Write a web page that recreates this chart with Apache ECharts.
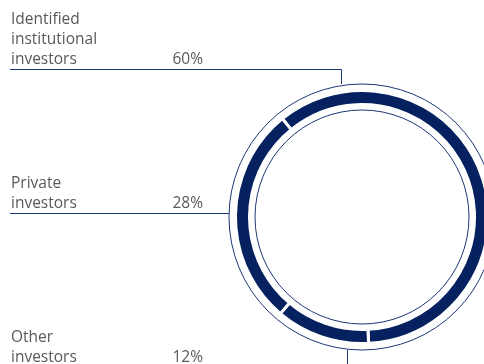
<!DOCTYPE html>
<html>
<head>
<meta charset="utf-8">
<script src="https://cdn.jsdelivr.net/npm/echarts@6/dist/echarts.min.js"></script>
<style>html,body{margin:0;padding:0;background:#fff;}#c{width:484px;height:364px;}</style>
</head>
<body>
<div id="c"></div>
<script>
// Data (clockwise order around the ring)
const categories = ['Identified\ninstitutional\ninvestors', 'Other\ninvestors', 'Private\ninvestors'];
const values = [60, 12, 28];

const NAVY = '#05215f';
const LINE = '#1c3675';
const TEXT = '#58595b';
const CX = 362, CY = 217;

// Leader line layout for each label (same order as categories)
const leader = [
  { y: 69,  pts: [[341.5, 84], [341.5, 69.5], [10, 69.5]] },
  { y: 367, pts: [[347.5, 350], [347.5, 367.5], [10, 367.5]] },
  { y: 213, pts: [[229, 213.5], [229, 213.5], [10, 213.5]] }
];

const chart = echarts.init(document.getElementById('c'), null, { renderer: 'canvas' });

chart.setOption({
  animation: false,
  series: [
    {
      type: 'pie',
      silent: true,
      center: [CX, CY],
      radius: [107, 133],
      startAngle: 90,
      label: { show: false },
      labelLine: { show: false },
      emphasis: { disabled: true },
      itemStyle: { color: 'rgba(0,0,0,0)', borderColor: LINE, borderWidth: 1 },
      data: [{ value: 1, name: 'frame' }],
      z: 1
    },
    {
      type: 'pie',
      silent: true,
      center: [CX, CY],
      radius: [112.5, 126.5],
      startAngle: 129,
      clockwise: true,
      avoidLabelOverlap: false,
      emphasis: { disabled: true },
      itemStyle: { color: NAVY, borderColor: '#ffffff', borderWidth: 3 },
      data: categories.map((c, i) => ({ name: c, value: values[i] })),
      label: {
        show: true,
        formatter: function (p) {
          const lines = p.name.split('\n').map(s => '{n|' + s + '}');
          lines[lines.length - 1] += '{v|' + p.value + '%}';
          return lines.join('\n');
        },
        rich: {
          n: { width: 159, fontSize: 15.5, lineHeight: 20, color: TEXT, fontFamily: 'Open Sans' },
          v: { width: 33, align: 'right', fontSize: 15.5, lineHeight: 20, color: TEXT, fontFamily: 'Open Sans' }
        }
      },
      labelLine: { show: true, lineStyle: { color: LINE, width: 1 } },
      labelLayout: function (params) {
        const L = leader[params.dataIndex];
        return {
          x: 11,
          y: L.y + 1,
          align: 'left',
          verticalAlign: 'bottom',
          labelLinePoints: L.pts
        };
      },
      z: 2
    }
  ]
});
</script>
</body>
</html>
